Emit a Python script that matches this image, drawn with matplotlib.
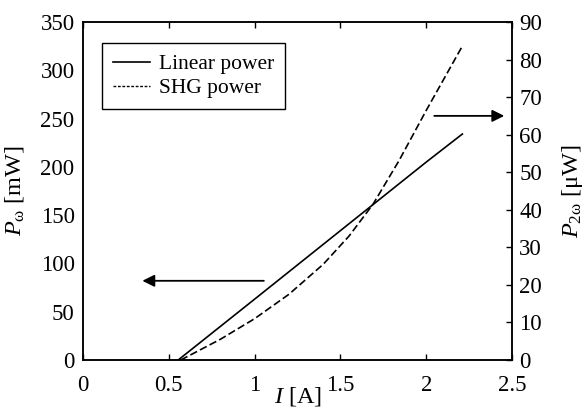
import matplotlib
matplotlib.use("Agg")
import matplotlib.pyplot as plt
from matplotlib.lines import Line2D

plt.rcParams['font.family'] = ['Liberation Serif', 'DejaVu Serif']
plt.rcParams['mathtext.fontset'] = 'custom'
plt.rcParams['mathtext.rm'] = 'Liberation Serif'
plt.rcParams['mathtext.it'] = 'Liberation Serif:italic'

# Linear power (left axis, mW)
lin_I = [0.555, 1.0, 1.5, 2.0, 2.21]
lin_P = [0, 63, 134, 205, 234]

# SHG power (right axis, uW)
shg_I = [0.57, 0.8, 1.0, 1.2, 1.4, 1.55, 1.69, 1.84, 2.0, 2.21]
shg_P = [0, 5.5, 11, 17.5, 25.5, 33, 41.5, 53, 66.5, 83.6]

fig = plt.figure(figsize=(5.84, 4.07), dpi=100)
ax = fig.add_axes([0.142, 0.1155, 0.735, 0.8305])
ax2 = ax.twinx()

ax.plot(lin_I, lin_P, c="k", lw=1.2)
ax2.plot(shg_I, shg_P, c="k", lw=1.2, dashes=(4.5, 2))

ax.set_xlim(0, 2.5)
ax.set_ylim(0, 350)
ax2.set_ylim(0, 90)
ax.set_xticks([0, 0.5, 1, 1.5, 2, 2.5])
ax.set_xticklabels(["0", "0.5", "1", "1.5", "2", "2.5"])
ax.set_yticks(range(0, 351, 50))
ax2.set_yticks(range(0, 91, 10))

ax.tick_params(axis="x", direction="in", top=True, length=4, width=1, labelsize=16.5, pad=11)
ax.tick_params(axis="y", length=0, labelsize=16.5, pad=6)
ax2.tick_params(axis="y", direction="in", length=4, width=1, labelsize=16.5, pad=5)
for a in (ax, ax2):
    for s in a.spines.values():
        s.set_linewidth(1.1)

ax.set_xlabel(r"$I$ [A]", fontsize=17.5)
ax.xaxis.set_label_coords(0.5, -0.075)
ax.set_ylabel(r"$P_{\mathrm{\omega}}$ [mW]", fontsize=17.5)
ax.yaxis.set_label_coords(-0.133, 0.5)
ax2.set_ylabel(r"$P_{2\mathrm{\omega}}$ [μW]", fontsize=17.5, rotation=90)
ax2.yaxis.set_label_coords(1.112, 0.5)

# arrows pointing to the respective axes
ax.annotate("", xy=(0.33, 82), xytext=(1.07, 82),
            arrowprops=dict(arrowstyle="-|>", color="k", lw=1.3, mutation_scale=18))
ax2.annotate("", xy=(2.47, 65), xytext=(2.03, 65),
             arrowprops=dict(arrowstyle="-|>", color="k", lw=1.3, mutation_scale=18))

handles = [Line2D([], [], c="k", lw=1.2),
           Line2D([], [], c="k", lw=1.0, dashes=(2, 1.2))]
leg = ax.legend(handles, ["Linear power", "SHG power"], loc="upper left",
                bbox_to_anchor=(0.044, 0.937), fontsize=15.5, fancybox=False,
                edgecolor="k", framealpha=1, handlelength=1.75, handletextpad=0.4,
                borderpad=0.5, labelspacing=0.2, borderaxespad=0)
leg.get_frame().set_linewidth(1.0)

fig.savefig("out.png", dpi=100)
